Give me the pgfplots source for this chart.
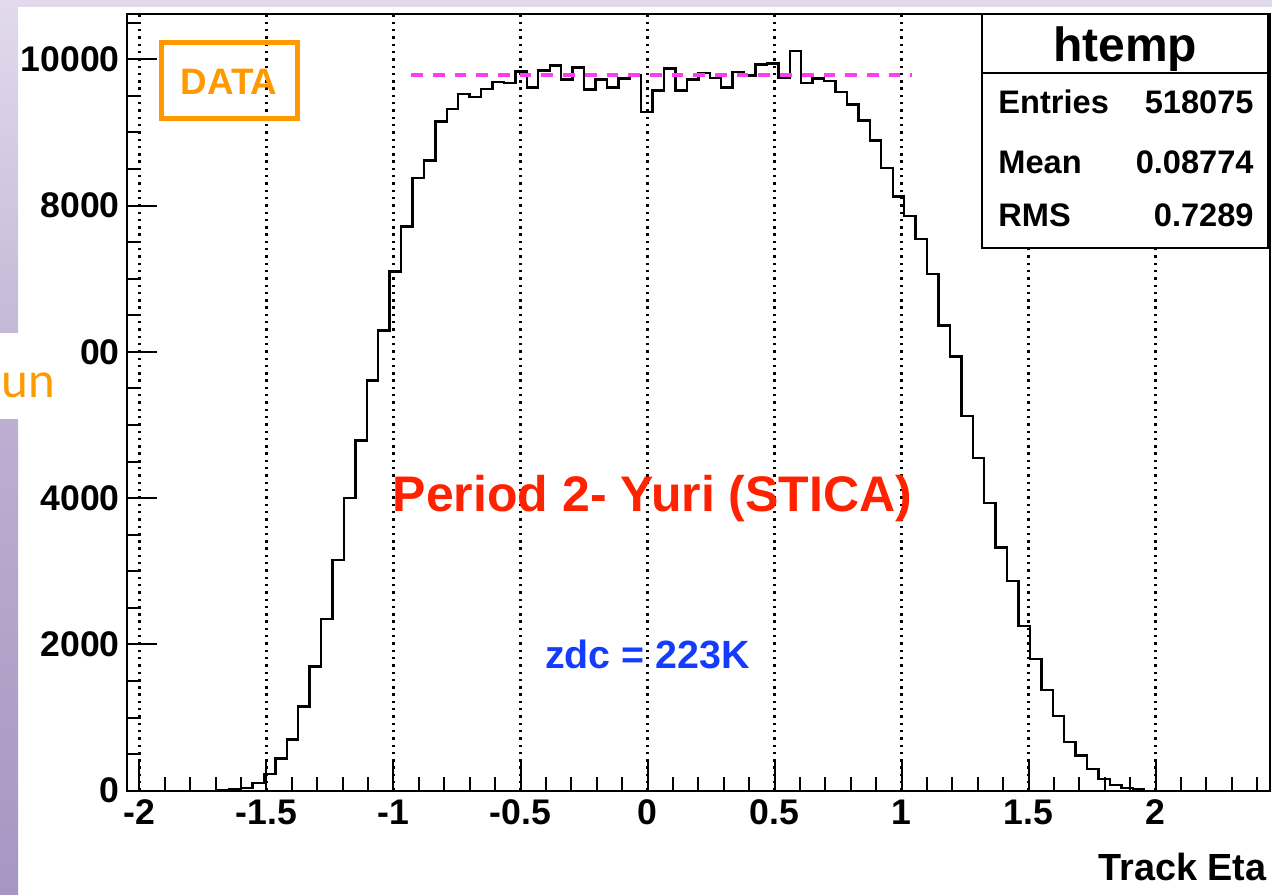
\documentclass[border=0pt]{standalone}
\usepackage{fontspec}
\setmainfont{Liberation Sans}
\newfontfamily\latofont{Lato}
\usepackage{pgfplots}
\pgfplotsset{compat=1.18}
\definecolor{rootred}{RGB}{255,34,0}
\definecolor{rootblue}{RGB}{20,60,255}
\definecolor{rootorange}{RGB}{255,153,0}
\definecolor{rootmag}{RGB}{255,60,240}
\definecolor{lav1}{RGB}{226,218,236}
\definecolor{lav2}{RGB}{198,184,216}
\definecolor{lav3}{RGB}{190,174,210}
\definecolor{lav4}{RGB}{166,150,194}
\newcommand{\fs}[1]{\fontsize{#1}{#1}\selectfont}
\pgfplotstableread{
x y
-2.05 0
-1.69 5
-1.645 15
-1.6 40
-1.555 105
-1.51 230
-1.465 440
-1.42 700
-1.375 1150
-1.33 1700
-1.285 2350
-1.24 3156
-1.195 4000
-1.15 4788
-1.105 5609
-1.06 6293
-1.015 7100
-0.97 7715
-0.925 8378
-0.88 8619
-0.835 9152
-0.79 9321
-0.745 9527
-0.7 9486
-0.655 9595
-0.61 9691
-0.565 9677
-0.52 9836
-0.475 9617
-0.43 9850
-0.385 9914
-0.34 9722
-0.295 9891
-0.25 9586
-0.205 9722
-0.16 9617
-0.115 9736
-0.07 9777
-0.025 9280
0.02 9572
0.065 9873
0.11 9576
0.155 9722
0.2 9814
0.245 9745
0.29 9617
0.335 9827
0.38 9777
0.425 9928
0.47 9941
0.515 9754
0.56 10110
0.605 9677
0.65 9736
0.695 9700
0.74 9554
0.785 9380
0.83 9161
0.875 8892
0.92 8515
0.965 8126
1.01 7862
1.055 7540
1.1 7068
1.145 6361
1.19 5937
1.235 5126
1.28 4547
1.325 3932
1.37 3324
1.415 2865
1.46 2253
1.505 1797
1.55 1378
1.595 1022
1.64 670
1.685 479
1.73 297
1.775 160
1.82 78
1.865 41
1.91 23
1.955 0
2.45 0
}\histdata
\begin{document}
\begin{tikzpicture}
\useasboundingbox (0,0) rectangle (636pt,447pt);
\begin{scope}[x=0.5pt,y=-0.5pt,shift={(0pt,447pt)}]
\fill[white] (0,0) rectangle (1272,894);
\fill[lav1] (0,0) rectangle (1272,7);
\shade[top color=lav1,bottom color=lav2] (0,0) rectangle (18,333);
\shade[top color=lav3,bottom color=lav4] (0,420) rectangle (18,894);
\end{scope}
\begin{axis}[
  at={(63.35pt,51.65pt)}, anchor=south west,
  scale only axis, width=571.65pt, height=388.35pt,
  xmin=-2.05, xmax=2.45, ymin=0, ymax=10620,
  axis line style={line width=1pt},
  tick align=inside, xtick pos=bottom, ytick pos=left,
  xtick={-2,-1.5,-1,-0.5,0,0.5,1,1.5,2},
  xticklabels={-2,-1.5,-1,-0.5,0,0.5,1,1.5,2},
  minor xtick={-1.9,-1.8,-1.7,-1.6,-1.4,-1.3,-1.2,-1.1,-0.9,-0.8,-0.7,-0.6,-0.4,-0.3,-0.2,-0.1,0.1,0.2,0.3,0.4,0.6,0.7,0.8,0.9,1.1,1.2,1.3,1.4,1.6,1.7,1.8,1.9,2.1,2.2,2.3,2.4},
  ytick={0,2000,4000,6000,8000,10000},
  yticklabels={0,2000,4000,00,8000,10000},
  minor ytick={500,1000,1500,2500,3000,3500,4500,5000,5500,6500,7000,7500,8500,9000,9500,10500},
  scaled ticks=false,
  major tick length=15pt, minor tick length=7pt,
  tick style={black, line width=1pt},
  xmajorgrids,
  grid style={black, line width=1.3pt, dash pattern=on 1.2pt off 2.45pt},
  ticklabel style={font=\bfseries\fs{17.8}},
  xticklabel style={yshift=-1pt},
]
\addplot[const plot, black, line width=1.2pt] table[x=x,y=y] {\histdata};
\addplot[rootmag, line width=2.3pt, dash pattern=on 5.85pt off 5pt] coordinates {(-0.93,9785) (1.04,9785)};
\end{axis}
\begin{scope}[x=0.5pt,y=-0.5pt,shift={(0pt,447pt)}]
\draw[rootorange, line width=2.5pt] (161,43) rectangle (297,119);
\node[anchor=base, inner sep=0, text=rootorange, font=\bfseries\fs{18.4}] at (229,95) {DATA};
\draw[black, line width=1pt, fill=white] (981.7,14) rectangle (1268,248);
\draw[black, line width=1pt] (981.7,73.3) -- (1268,73.3);
\node[anchor=base, inner sep=0, font=\bfseries\fs{24}] at (1125,61.7) {htemp};
\node[anchor=base west, inner sep=0, font=\bfseries\fs{16.3}] at (998,113.3) {Entries};
\node[anchor=base east, inner sep=0, font=\bfseries\fs{16.3}] at (1254,113.3) {518075};
\node[anchor=base west, inner sep=0, font=\bfseries\fs{16.3}] at (998,173.3) {Mean};
\node[anchor=base east, inner sep=0, font=\bfseries\fs{16.3}] at (1254,173.3) {0.08774};
\node[anchor=base west, inner sep=0, font=\bfseries\fs{16.3}] at (998,226.7) {RMS};
\node[anchor=base east, inner sep=0, font=\bfseries\fs{16.3}] at (1254,226.7) {0.7289};
\node[anchor=base, inner sep=0, text=rootred, font=\bfseries\fs{25}] at (652.5,512) {Period 2- Yuri (STICA)};
\node[anchor=base, inner sep=0, text=rootblue, font=\bfseries\fs{19.7}] at (647.5,668) {zdc = 223K};
\node[anchor=base east, inner sep=0, font=\bfseries\fs{18.9}] at (1267,880) {Track Eta};
\node[anchor=base west, inner sep=0, text=rootorange, font=\latofont\fs{24}] at (1,398) {un};
\end{scope}
\end{tikzpicture}
\end{document}
